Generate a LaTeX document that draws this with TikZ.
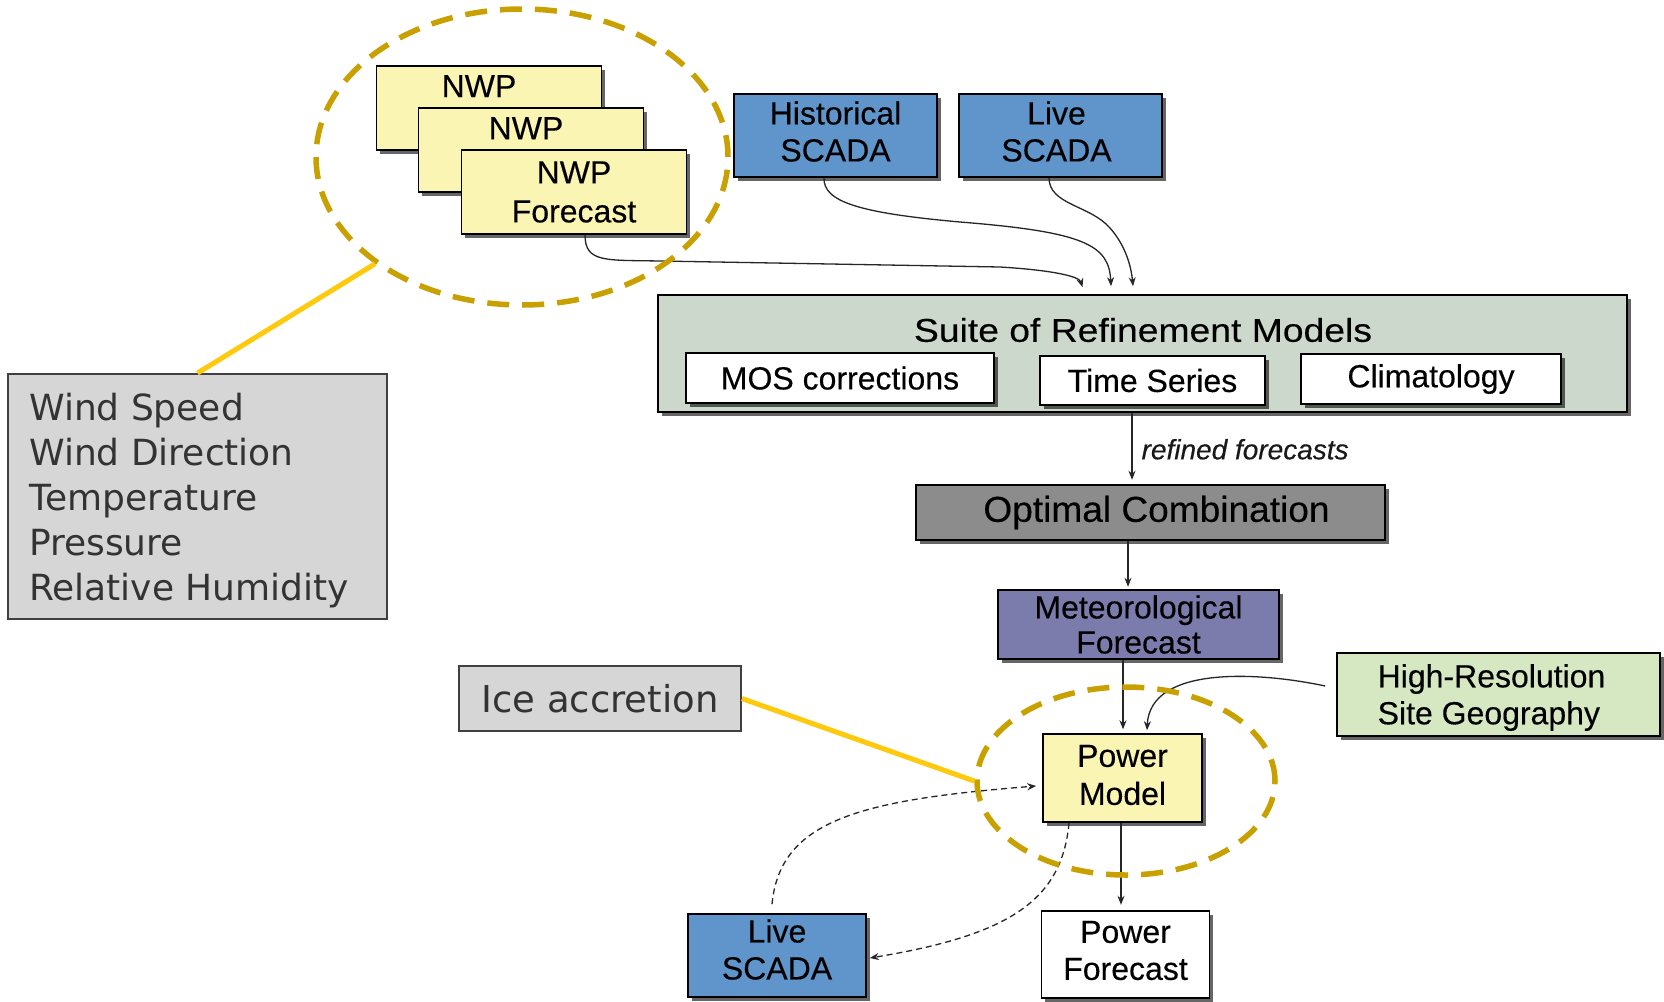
\documentclass[tikz,border=0pt]{standalone}
\usepackage{fontspec}
\setmainfont{Liberation Sans}[FakeBold=0.3]
\newfontfamily\verd{DejaVu Sans}
\usepackage{graphicx}
\usetikzlibrary{arrows.meta,shapes.geometric,shadows}
\definecolor{nwpyellow}{HTML}{FAF5B2}
\definecolor{scadablue}{HTML}{5F95CA}
\definecolor{suitegreen}{HTML}{CDD8CC}
\definecolor{optgray}{HTML}{8C8C8C}
\definecolor{metpurple}{HTML}{7B7BAC}
\definecolor{hiresgreen}{HTML}{D5E8C2}
\definecolor{windgray}{HTML}{D6D6D6}
\definecolor{notegray}{HTML}{404040}
\definecolor{ellgold}{HTML}{C8A000}
\definecolor{lineyellow}{HTML}{FFC90E}
\definecolor{textgray}{HTML}{333333}
\tikzset{
  shad/.style={drop shadow={shadow xshift=3.5pt,shadow yshift=-3.5pt,fill=black,opacity=0.6}},
  bx/.style={draw=black, line width=1.6pt, inner sep=0pt, align=center, text=black,
             font=\fontsize{32}{37}\selectfont, shad},
  card/.style={bx, fill=nwpyellow, minimum width=225pt, minimum height=84pt},
  scada/.style={bx, fill=scadablue, minimum width=203pt, minimum height=83pt},
  sub/.style={bx, fill=white, minimum height=50pt},
  note/.style={draw=notegray, line width=1.8pt, fill=windgray, inner sep=0pt, text=textgray},
  arr/.style={-{Stealth[length=9pt,width=7pt]}, line width=1.3pt, draw=black!85},
  darr/.style={arr, dash pattern=on 6pt off 4pt},
  ring/.style={ellipse, draw=ellgold, line width=5.5pt, dash pattern=on 22pt off 13pt, inner sep=0pt},
  callout/.style={draw=lineyellow, line width=5pt},
  btxt/.style={inner sep=0pt, align=center, text=black, font=\fontsize{32}{37}\selectfont}
}
\begin{document}
\begin{tikzpicture}[x=1pt,y=-1pt]
\useasboundingbox (0,0) rectangle (1664,1001);
\fill[white] (0,0) rectangle (1664,1001);

% NWP cards
\node[card] (nwp1) at (489,108) {};
\node[btxt, anchor=base] (nwp1t) at ([xshift=-10pt,yshift=-32pt]nwp1.north) {NWP};
\node[card] (nwp2) at (531,150) {};
\node[btxt, anchor=base] (nwp2t) at ([xshift=-5pt,yshift=-32pt]nwp2.north) {NWP};
\node[card, font=\fontsize{32}{39}\selectfont] (nwp3) at (574,192) {NWP\\Forecast};

% SCADA top
\node[scada] (hist) at (835.5,135.5) {};
\node[btxt] (histt) at ([yshift=4pt]hist.center) {Historical\\SCADA};
\node[scada] (live1) at (1060.5,135.5) {};
\node[btxt] (live1t) at ([xshift=-4pt,yshift=4pt]live1.center) {Live\\SCADA};

% Suite
\node[bx, fill=suitegreen, minimum width=969pt, minimum height=117pt] (suite) at (1142.5,353.5) {};
\node[btxt, font=\fontsize{33}{37}\selectfont] (suitet) at (1143,330) {\scalebox{1.13}[1]{Suite of Refinement Models}};
\node[sub, minimum width=308pt] (mos) at (840,378) {MOS corrections};
\node[sub, minimum width=225pt, minimum height=49pt] (ts) at (1152.5,380.5) {Time Series};
\node[sub, minimum width=260pt] (clim) at (1431,379) {Climatology};

% Chain
\node[bx, fill=optgray, minimum width=469pt, minimum height=55pt] (opt) at (1150.5,512.5) {};
\node[btxt, font=\fontsize{36}{40}\selectfont] (optt) at ([xshift=6pt]opt.center) {\scalebox{1.03}[1]{Optimal Combination}};
\node[bx, fill=metpurple, minimum width=281pt, minimum height=69pt, font=\fontsize{32}{35}\selectfont] (met) at (1138.5,624.5) {Meteorological\\Forecast};
\node[bx, fill=hiresgreen, minimum width=323pt, minimum height=83pt] (hires) at (1498.5,694.5) {};
\node[btxt, align=left] (hirest) at ([xshift=-7pt,yshift=-3pt]hires.center) {High-Resolution\\Site Geography};
\node[bx, fill=nwpyellow, minimum width=159pt, minimum height=88pt] (pm) at (1122.5,778) {};
\node[btxt, font=\fontsize{32}{38}\selectfont] (pmt) at ([yshift=3pt]pm.center) {Power\\Model};
\node[bx, fill=white, minimum width=168pt, minimum height=87pt] (pf) at (1125.5,954.5) {};
\node[btxt] (pft) at ([yshift=4pt]pf.center) {Power\\Forecast};
\node[scada, minimum width=178pt] (live2) at (777,955.5) {};
\node[btxt] (live2t) at ([yshift=6pt]live2.center) {Live\\SCADA};

% Notes
\node[note, minimum width=282pt, minimum height=65pt, font=\verd\fontsize{37}{44}\selectfont] (ice) at (600,698.5) {Ice accretion};
\node[note, minimum width=379pt, minimum height=245pt] (wind) at (197.5,496.5) {};
\node[inner sep=0pt, anchor=north west, align=left, text=textgray,
      font=\verd\fontsize{36}{45}\selectfont] (windt) at (29,393)
      {Wind Speed\\Wind Direction\\Temperature\\Pressure\\Relative Humidity};

% Arrows into suite
\draw[arr] ([xshift=11pt]nwp3.south) .. controls +(0,28) and (605,260) .. (660,261)
   -- (1000,267) .. controls (1050,270) and (1079,276) .. ([xshift=-60pt,yshift=7pt]suite.north);
\draw[arr] ([xshift=-11.5pt]hist.south) .. controls (823,202) and (860,213) .. (960,222)
   .. controls (1085,232) and (1109,245) .. ([xshift=-31.5pt,yshift=8pt]suite.north);
\draw[arr] ([xshift=-11.5pt]live1.south) .. controls (1049,205) and (1090,205) .. (1110,228)
   .. controls (1125,245) and (1131,265) .. ([xshift=-9.5pt,yshift=8pt]suite.north);

% Vertical chain
\draw[arr, shorten >=6pt] ([xshift=-10.5pt]suite.south) -- ++(0,73)
   node[pos=0.5, anchor=west, xshift=9pt, inner sep=0pt, text=black!90,
        font=\itshape\fontsize{28}{32}\selectfont] (rf) {refined forecasts};
\draw[arr, shorten >=4pt] ([xshift=-22.5pt]opt.south) -- ++(0,50);
\draw[arr, shorten >=5pt] ([xshift=-15.5pt]met.south) -- ++(0,74.5);
\draw[arr] ([xshift=-11pt,yshift=8.5pt]hires.west) .. controls (1260,672) and (1150,665) .. ([xshift=24.5pt,yshift=3pt]pm.north);
\draw[arr, shorten >=7pt] ([xshift=-1.5pt]pm.south) -- ++(0,89);

% Dashed loops
\draw[darr] ([xshift=-5pt,yshift=9pt]live2.north) .. controls (780,820) and (860,800) .. ([xshift=-6pt,yshift=-8pt]pm.west);
\draw[darr] ([xshift=-53.5pt]pm.south) .. controls (1062,900) and (1010,935) .. ([xshift=3pt,yshift=-2.5pt]live2.east);

% Rings and callouts
\node[ring, minimum width=412pt, minimum height=296pt] (e1) at (522,157) {};
\node[ring, minimum width=298pt, minimum height=188pt] (e2) at (1126,781) {};
\draw[callout] (e1.216) -- (wind.north);
\draw[callout] (ice.east) -- (e2.west);
\end{tikzpicture}
\end{document}
